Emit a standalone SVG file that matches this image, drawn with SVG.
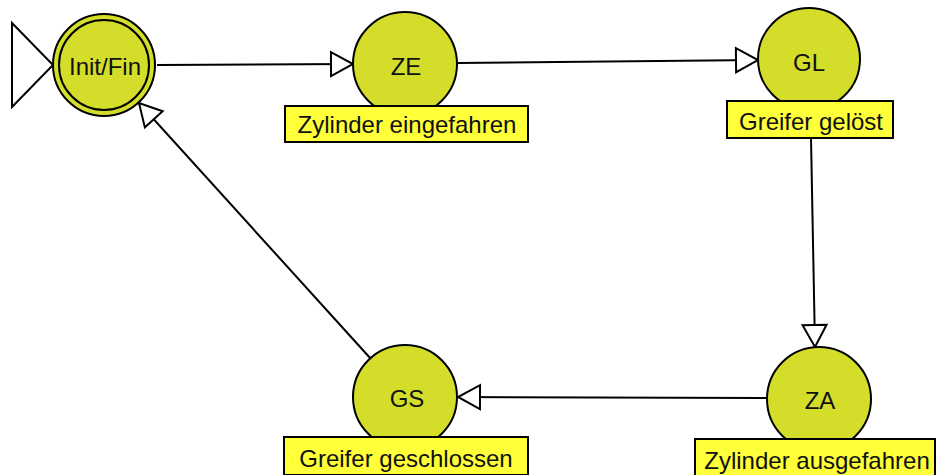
<svg xmlns="http://www.w3.org/2000/svg" width="940" height="475" viewBox="0 0 940 475">
<style>
.state{fill:#d5dd2b;stroke:#000;stroke-width:2}
.lbl{fill:#ffff3a;stroke:#000;stroke-width:2}
.st{font-family:"Liberation Sans",Arial,sans-serif;font-size:24px;fill:#111;text-anchor:middle}
.lt{font-family:"Liberation Sans",Arial,sans-serif;font-size:24px;fill:#111;text-anchor:middle}
.edge{fill:none;stroke:#000;stroke-width:2}
</style>
<defs>
<marker id="arr" markerUnits="userSpaceOnUse" viewBox="0 0 25 26" refX="23" refY="13" markerWidth="25" markerHeight="26" orient="auto" overflow="visible">
<path d="M1,1 L23,13 L1,25 Z" fill="#fff" stroke="#000" stroke-width="2"/>
</marker>
</defs>
<rect width="940" height="475" fill="#fff"/>
<g id="connectors">
<line class="edge" x1="157" y1="65" x2="353" y2="64" marker-end="url(#arr)"/>
<line class="edge" x1="458" y1="63" x2="758" y2="60" marker-end="url(#arr)"/>
<line class="edge" x1="811" y1="138" x2="815" y2="347" marker-end="url(#arr)"/>
<line class="edge" x1="767" y1="398" x2="458" y2="397" marker-end="url(#arr)"/>
<line class="edge" x1="371" y1="359" x2="139" y2="103" marker-end="url(#arr)"/>
</g>
<g id="node-init">
<path d="M12,23 L53,65 L12,107 Z" fill="#fff" stroke="#000" stroke-width="2"/>
<circle class="state" cx="104" cy="65" r="51"/>
<circle cx="104" cy="65" r="45" fill="none" stroke="#000" stroke-width="2"/>
<text class="st" x="105" y="75">Init/Fin</text>
</g>
<g id="node-ZE">
<circle class="state" cx="405" cy="64" r="52"/>
<text class="st" x="406" y="75">ZE</text>
<rect class="lbl" x="285" y="106" width="243" height="36"/>
<text class="lt" x="407" y="133">Zylinder eingefahren</text>
</g>
<g id="node-GL">
<circle class="state" cx="809" cy="59" r="51"/>
<text class="st" x="809" y="71">GL</text>
<rect class="lbl" x="727" y="101" width="166" height="37"/>
<text class="lt" x="811" y="130">Greifer gelöst</text>
</g>
<g id="node-ZA">
<circle class="state" cx="819" cy="399" r="52"/>
<text class="st" x="820" y="409">ZA</text>
<rect class="lbl" x="695" y="439" width="240" height="38"/>
<text class="lt" x="817" y="469">Zylinder ausgefahren</text>
</g>
<g id="node-GS">
<circle class="state" cx="405" cy="397" r="52"/>
<text class="st" x="407" y="407">GS</text>
<rect class="lbl" x="284" y="437" width="244" height="38"/>
<text class="lt" x="406" y="467">Greifer geschlossen</text>
</g>
</svg>
